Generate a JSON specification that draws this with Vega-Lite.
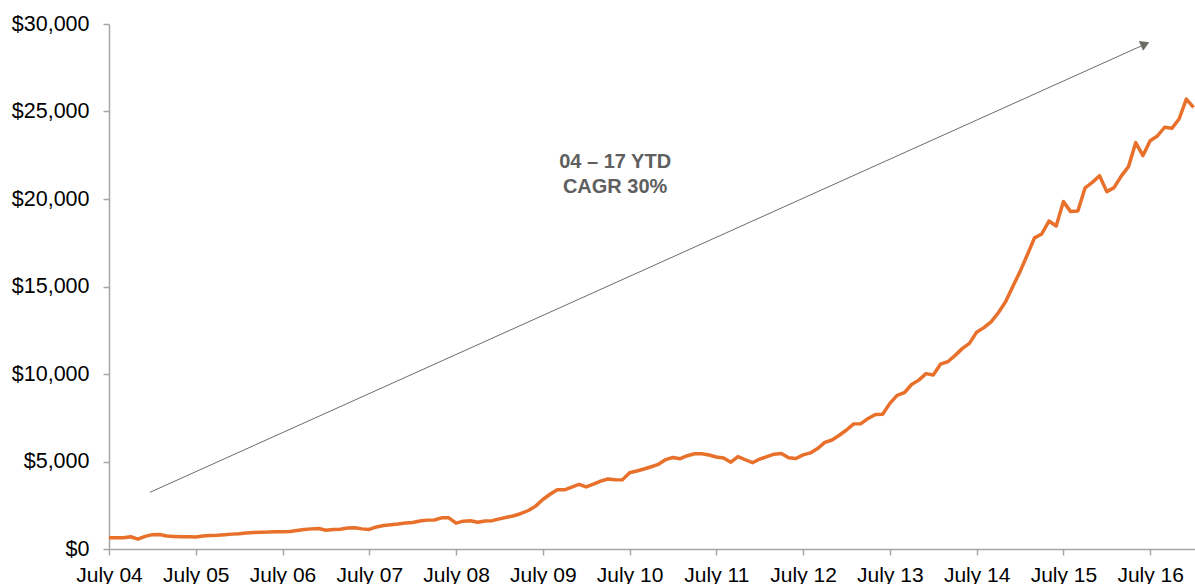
{
  "$schema": "https://vega.github.io/schema/vega-lite/v6.json",
  "width": 1086,
  "height": 525,
  "autosize": "none",
  "padding": {"left": 109, "top": 24, "right": 0, "bottom": 35},
  "background": "white",
  "config": {
    "view": {"stroke": null},
    "font": "Liberation Sans",
    "axis": {
      "grid": false,
      "domainColor": "#a6a6a6",
      "domainWidth": 1.5,
      "tickColor": "#a6a6a6",
      "tickWidth": 1.5,
      "tickSize": 6,
      "labelFont": "Liberation Sans",
      "labelFontSize": 21.5,
      "labelColor": "#000000",
      "labelOverlap": false,
      "labelFlush": false,
      "title": null
    }
  },
  "datasets": {
    "series": [
      {"m": 0, "v": 650}, {"m": 1, "v": 650}, {"m": 2, "v": 640}, {"m": 3, "v": 700}, {"m": 4, "v": 560},
      {"m": 5, "v": 720}, {"m": 6, "v": 820}, {"m": 7, "v": 830}, {"m": 8, "v": 740}, {"m": 9, "v": 720},
      {"m": 10, "v": 700}, {"m": 11, "v": 700}, {"m": 12, "v": 690}, {"m": 13, "v": 740}, {"m": 14, "v": 770},
      {"m": 15, "v": 790}, {"m": 16, "v": 820}, {"m": 17, "v": 850}, {"m": 18, "v": 870}, {"m": 19, "v": 920},
      {"m": 20, "v": 940}, {"m": 21, "v": 960}, {"m": 22, "v": 970}, {"m": 23, "v": 990}, {"m": 24, "v": 990},
      {"m": 25, "v": 1000}, {"m": 26, "v": 1060}, {"m": 27, "v": 1120}, {"m": 28, "v": 1150}, {"m": 29, "v": 1170},
      {"m": 30, "v": 1070}, {"m": 31, "v": 1110}, {"m": 32, "v": 1130}, {"m": 33, "v": 1200}, {"m": 34, "v": 1220},
      {"m": 35, "v": 1150}, {"m": 36, "v": 1120}, {"m": 37, "v": 1260}, {"m": 38, "v": 1340}, {"m": 39, "v": 1390},
      {"m": 40, "v": 1430}, {"m": 41, "v": 1480}, {"m": 42, "v": 1510}, {"m": 43, "v": 1600}, {"m": 44, "v": 1650},
      {"m": 45, "v": 1660}, {"m": 46, "v": 1780}, {"m": 47, "v": 1780}, {"m": 48, "v": 1480}, {"m": 49, "v": 1590},
      {"m": 50, "v": 1610}, {"m": 51, "v": 1530}, {"m": 52, "v": 1600}, {"m": 53, "v": 1620}, {"m": 54, "v": 1720},
      {"m": 55, "v": 1810}, {"m": 56, "v": 1900}, {"m": 57, "v": 2030}, {"m": 58, "v": 2200}, {"m": 59, "v": 2450},
      {"m": 60, "v": 2830}, {"m": 61, "v": 3130}, {"m": 62, "v": 3380}, {"m": 63, "v": 3380}, {"m": 64, "v": 3530},
      {"m": 65, "v": 3690}, {"m": 66, "v": 3550}, {"m": 67, "v": 3710}, {"m": 68, "v": 3880}, {"m": 69, "v": 4000},
      {"m": 70, "v": 3960}, {"m": 71, "v": 3950}, {"m": 72, "v": 4360}, {"m": 73, "v": 4460}, {"m": 74, "v": 4570},
      {"m": 75, "v": 4700}, {"m": 76, "v": 4840}, {"m": 77, "v": 5110}, {"m": 78, "v": 5230}, {"m": 79, "v": 5160},
      {"m": 80, "v": 5330}, {"m": 81, "v": 5440}, {"m": 82, "v": 5440}, {"m": 83, "v": 5370}, {"m": 84, "v": 5260},
      {"m": 85, "v": 5200}, {"m": 86, "v": 4960}, {"m": 87, "v": 5280}, {"m": 88, "v": 5100}, {"m": 89, "v": 4930},
      {"m": 90, "v": 5140}, {"m": 91, "v": 5280}, {"m": 92, "v": 5420}, {"m": 93, "v": 5460}, {"m": 94, "v": 5220},
      {"m": 95, "v": 5170}, {"m": 96, "v": 5380}, {"m": 97, "v": 5490}, {"m": 98, "v": 5740}, {"m": 99, "v": 6090},
      {"m": 100, "v": 6230}, {"m": 101, "v": 6500}, {"m": 102, "v": 6800}, {"m": 103, "v": 7150}, {"m": 104, "v": 7160},
      {"m": 105, "v": 7460}, {"m": 106, "v": 7690}, {"m": 107, "v": 7700}, {"m": 108, "v": 8320}, {"m": 109, "v": 8780},
      {"m": 110, "v": 8930}, {"m": 111, "v": 9400}, {"m": 112, "v": 9650}, {"m": 113, "v": 10020}, {"m": 114, "v": 9940},
      {"m": 115, "v": 10560}, {"m": 116, "v": 10700}, {"m": 117, "v": 11050}, {"m": 118, "v": 11450}, {"m": 119, "v": 11750},
      {"m": 120, "v": 12390}, {"m": 121, "v": 12650}, {"m": 122, "v": 12980}, {"m": 123, "v": 13500}, {"m": 124, "v": 14130},
      {"m": 125, "v": 15000}, {"m": 126, "v": 15850}, {"m": 127, "v": 16800}, {"m": 128, "v": 17780}, {"m": 129, "v": 18000},
      {"m": 130, "v": 18740}, {"m": 131, "v": 18460}, {"m": 132, "v": 19850}, {"m": 133, "v": 19280}, {"m": 134, "v": 19320},
      {"m": 135, "v": 20640}, {"m": 136, "v": 20950}, {"m": 137, "v": 21330}, {"m": 138, "v": 20420}, {"m": 139, "v": 20650},
      {"m": 140, "v": 21310}, {"m": 141, "v": 21850}, {"m": 142, "v": 23220}, {"m": 143, "v": 22480}, {"m": 144, "v": 23330},
      {"m": 145, "v": 23600}, {"m": 146, "v": 24100}, {"m": 147, "v": 24040}, {"m": 148, "v": 24570}, {"m": 149, "v": 25710},
      {"m": 150, "v": 25240}
    ],
    "arrow": [{"m": 5.67, "v": 3240, "m2": 142.76, "v2": 28743}],
    "head": [{"m": 143.3, "v": 28857}],
    "label": [
      {"m": 70.0, "v": 21754, "t": "04 – 17 YTD"},
      {"m": 70.0, "v": 20326, "t": "CAGR 30%"}
    ]
  },
  "layer": [
    {
      "data": {"name": "series"},
      "mark": {"type": "line", "color": "#e8702a", "strokeWidth": 3.5, "strokeJoin": "round"},
      "encoding": {
        "x": {
          "field": "m", "type": "quantitative",
          "scale": {"domain": [0, 150.2], "nice": false, "zero": false},
          "axis": {
            "values": [0, 12, 24, 36, 48, 60, 72, 84, 96, 108, 120, 132, 144],
            "labelExpr": "'July ' + (datum.value / 12 + 4 < 10 ? '0' : '') + (datum.value / 12 + 4)",
            "labelPadding": 9,
            "labelFontSize": 21
          }
        },
        "y": {
          "field": "v", "type": "quantitative",
          "scale": {"domain": [0, 30000], "nice": false},
          "axis": {
            "values": [0, 5000, 10000, 15000, 20000, 25000, 30000],
            "format": "$,.0f",
            "labelPadding": 14
          }
        }
      }
    },
    {
      "data": {"name": "arrow"},
      "mark": {"type": "rule", "color": "#6b6e63", "strokeWidth": 1},
      "encoding": {
        "x": {"field": "m", "type": "quantitative"},
        "y": {"field": "v", "type": "quantitative"},
        "x2": {"field": "m2"},
        "y2": {"field": "v2"}
      }
    },
    {
      "data": {"name": "head"},
      "mark": {"type": "point", "shape": "triangle-right", "filled": true, "color": "#6b6e63", "opacity": 1, "size": 110, "angle": 335.75},
      "encoding": {
        "x": {"field": "m", "type": "quantitative"},
        "y": {"field": "v", "type": "quantitative"}
      }
    },
    {
      "data": {"name": "label"},
      "mark": {"type": "text", "font": "Liberation Sans", "fontSize": 20, "fontWeight": "bold", "color": "#5f5f5f", "align": "center", "baseline": "alphabetic"},
      "encoding": {
        "x": {"field": "m", "type": "quantitative"},
        "y": {"field": "v", "type": "quantitative"},
        "text": {"field": "t"}
      }
    }
  ]
}
